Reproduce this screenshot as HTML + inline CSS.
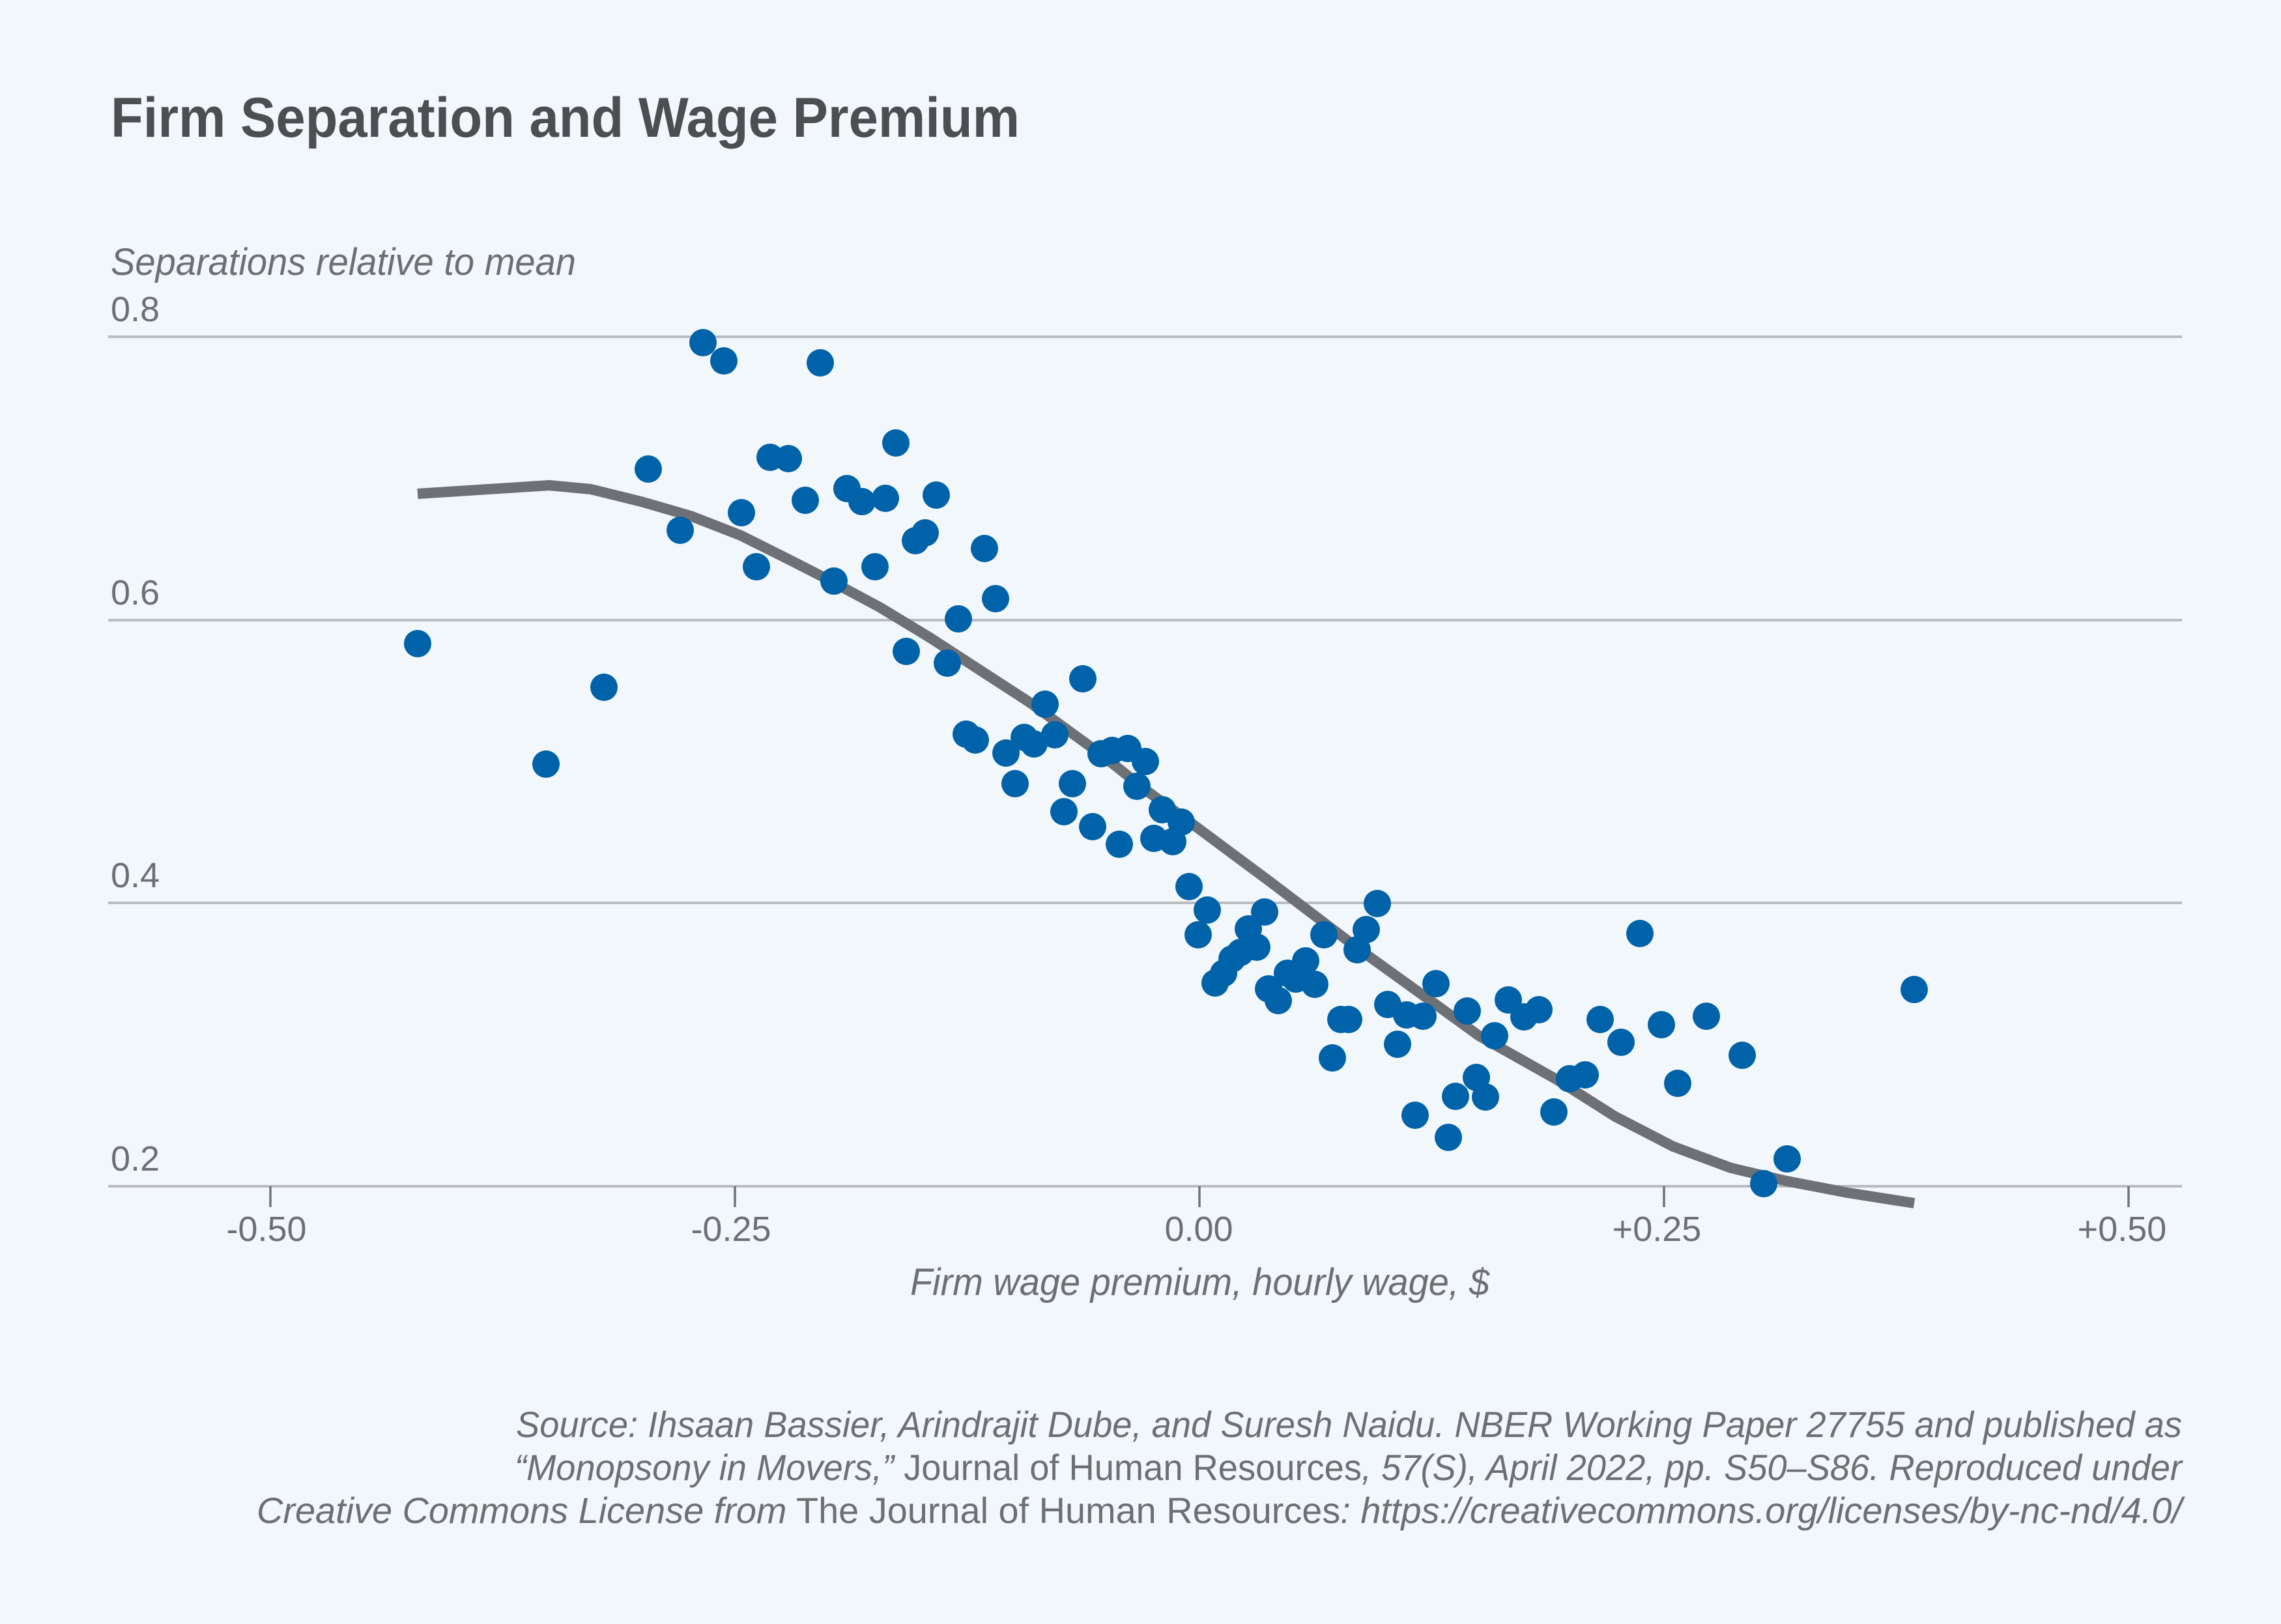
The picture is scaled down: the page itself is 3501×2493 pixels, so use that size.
<!DOCTYPE html>
<html><head><meta charset="utf-8"><style>
html,body{margin:0;padding:0;background:#f2f7fb;}
svg{display:block;}
text{font-family:"Liberation Sans",sans-serif;}
</style></head><body>
<svg width="3501" height="2493" viewBox="0 0 3501 2493" xmlns="http://www.w3.org/2000/svg">
<rect x="0" y="0" width="3501" height="2493" fill="#f2f7fb"/>
<text x="170" y="210" font-size="86" font-weight="700" fill="#4c4e52" textLength="1395" lengthAdjust="spacingAndGlyphs">Firm Separation and Wage Premium</text>
<text x="170" y="422" font-size="58" font-style="italic" fill="#6d6f73" textLength="714" lengthAdjust="spacingAndGlyphs">Separations relative to mean</text>
<g font-size="54" fill="#6d6f73">
<text x="170" y="493">0.8</text>
<text x="170" y="928">0.6</text>
<text x="170" y="1362">0.4</text>
<text x="170" y="1797">0.2</text>
</g>
<g stroke="#b9bcc1" stroke-width="4">
<line x1="166" y1="517" x2="3349" y2="517"/>
<line x1="166" y1="952" x2="3349" y2="952"/>
<line x1="166" y1="1386" x2="3349" y2="1386"/>
<line x1="166" y1="1821" x2="3349" y2="1821"/>
</g>
<g stroke="#6f7277" stroke-width="3.5">
<line x1="415" y1="1821" x2="415" y2="1853"/>
<line x1="1128" y1="1821" x2="1128" y2="1853"/>
<line x1="1841" y1="1821" x2="1841" y2="1853"/>
<line x1="2554" y1="1821" x2="2554" y2="1853"/>
<line x1="3267" y1="1821" x2="3267" y2="1853"/>
</g>
<g font-size="54" fill="#6d6f73" text-anchor="middle">
<text x="409" y="1905">-0.50</text>
<text x="1122" y="1905">-0.25</text>
<text x="1840" y="1905">0.00</text>
<text x="2543" y="1905">+0.25</text>
<text x="3257" y="1905">+0.50</text>
</g>
<text x="1397" y="1988" font-size="58" font-style="italic" fill="#6d6f73" textLength="889" lengthAdjust="spacingAndGlyphs">Firm wage premium, hourly wage, $</text>
<polyline fill="none" stroke="#6d7075" stroke-width="16" stroke-linejoin="round" stroke-linecap="butt" points="641,758 843,745 907,751 984,770 1060,792 1137,822 1213,860 1264,886 1350,932 1426,978 1503,1028 1580,1078 1690,1158 1760,1214 1833,1267 1950,1354 2083,1455 2183,1527 2270,1590 2389,1657 2479,1714 2568,1760 2657,1793 2742,1813 2836,1831 2938,1847"/>
<g fill="#0062a8">
<circle cx="641" cy="988" r="21"/><circle cx="838" cy="1173" r="21"/><circle cx="927" cy="1055" r="21"/><circle cx="995" cy="720" r="21"/><circle cx="1044" cy="814" r="21"/>
<circle cx="1079" cy="526" r="21"/><circle cx="1111" cy="554" r="21"/><circle cx="1138" cy="787" r="21"/><circle cx="1161" cy="870" r="21"/><circle cx="1182" cy="702" r="21"/>
<circle cx="1210" cy="704" r="21"/><circle cx="1236" cy="768" r="21"/><circle cx="1259" cy="557" r="21"/><circle cx="1280" cy="892" r="21"/><circle cx="1300" cy="750" r="21"/>
<circle cx="1323" cy="770" r="21"/><circle cx="1343" cy="870" r="21"/><circle cx="1359" cy="765" r="21"/><circle cx="1375" cy="680" r="21"/><circle cx="1391" cy="1000" r="21"/>
<circle cx="1405" cy="830" r="21"/><circle cx="1420" cy="818" r="21"/><circle cx="1437" cy="760" r="21"/><circle cx="1454" cy="1018" r="21"/><circle cx="1471" cy="950" r="21"/>
<circle cx="1483" cy="1127" r="21"/><circle cx="1497" cy="1136" r="21"/><circle cx="1511" cy="842" r="21"/><circle cx="1528" cy="919" r="21"/><circle cx="1544" cy="1156" r="21"/>
<circle cx="1558" cy="1203" r="21"/><circle cx="1572" cy="1132" r="21"/><circle cx="1587" cy="1142" r="21"/><circle cx="1604" cy="1081" r="21"/><circle cx="1619" cy="1128" r="21"/>
<circle cx="1633" cy="1246" r="21"/><circle cx="1646" cy="1203" r="21"/><circle cx="1662" cy="1042" r="21"/><circle cx="1677" cy="1269" r="21"/><circle cx="1690" cy="1157" r="21"/>
<circle cx="1707" cy="1152" r="21"/><circle cx="1718" cy="1296" r="21"/><circle cx="1731" cy="1149" r="21"/><circle cx="1745" cy="1207" r="21"/><circle cx="1758" cy="1169" r="21"/>
<circle cx="1771" cy="1287" r="21"/><circle cx="1784" cy="1243" r="21"/><circle cx="1800" cy="1292" r="21"/><circle cx="1813" cy="1262" r="21"/><circle cx="1825" cy="1361" r="21"/>
<circle cx="1839" cy="1435" r="21"/><circle cx="1853" cy="1397" r="21"/><circle cx="1865" cy="1509" r="21"/><circle cx="1878" cy="1494" r="21"/><circle cx="1891" cy="1472" r="21"/>
<circle cx="1904" cy="1462" r="21"/><circle cx="1916" cy="1426" r="21"/><circle cx="1929" cy="1454" r="21"/><circle cx="1941" cy="1400" r="21"/><circle cx="1947" cy="1518" r="21"/>
<circle cx="1962" cy="1536" r="21"/><circle cx="1976" cy="1494" r="21"/><circle cx="1989" cy="1503" r="21"/><circle cx="2004" cy="1475" r="21"/><circle cx="2018" cy="1511" r="21"/>
<circle cx="2032" cy="1435" r="21"/><circle cx="2045" cy="1624" r="21"/><circle cx="2058" cy="1565" r="21"/><circle cx="2070" cy="1565" r="21"/><circle cx="2083" cy="1458" r="21"/>
<circle cx="2097" cy="1427" r="21"/><circle cx="2114" cy="1387" r="21"/><circle cx="2130" cy="1542" r="21"/><circle cx="2145" cy="1603" r="21"/><circle cx="2159" cy="1558" r="21"/>
<circle cx="2172" cy="1712" r="21"/><circle cx="2184" cy="1560" r="21"/><circle cx="2204" cy="1510" r="21"/><circle cx="2223" cy="1746" r="21"/><circle cx="2234" cy="1683" r="21"/>
<circle cx="2252" cy="1552" r="21"/><circle cx="2266" cy="1654" r="21"/><circle cx="2280" cy="1684" r="21"/><circle cx="2294" cy="1590" r="21"/><circle cx="2315" cy="1535" r="21"/>
<circle cx="2339" cy="1561" r="21"/><circle cx="2362" cy="1550" r="21"/><circle cx="2385" cy="1707" r="21"/><circle cx="2409" cy="1656" r="21"/><circle cx="2433" cy="1650" r="21"/>
<circle cx="2456" cy="1565" r="21"/><circle cx="2488" cy="1600" r="21"/><circle cx="2517" cy="1433" r="21"/><circle cx="2550" cy="1573" r="21"/><circle cx="2575" cy="1663" r="21"/>
<circle cx="2619" cy="1560" r="21"/><circle cx="2674" cy="1620" r="21"/><circle cx="2707" cy="1817" r="21"/><circle cx="2743" cy="1779" r="21"/><circle cx="2938" cy="1519" r="21"/>
</g>
<g font-size="56" fill="#6d6f73">
<text x="792" y="2206" font-style="italic" textLength="2557" lengthAdjust="spacingAndGlyphs">Source: Ihsaan Bassier, Arindrajit Dube, and Suresh Naidu. NBER Working Paper 27755 and published as</text>
<text x="790" y="2272" textLength="2559" lengthAdjust="spacingAndGlyphs"><tspan font-style="italic">“Monopsony in Movers,”</tspan> Journal of Human Resources<tspan font-style="italic">, 57(S), April 2022, pp. S50–S86. Reproduced under</tspan></text>
<text x="394" y="2338" textLength="2955" lengthAdjust="spacingAndGlyphs"><tspan font-style="italic">Creative Commons License from</tspan> The Journal of Human Resources<tspan font-style="italic">: https://creativecommons.org/licenses/by-nc-nd/4.0/</tspan></text>
</g>
</svg>
</body></html>
